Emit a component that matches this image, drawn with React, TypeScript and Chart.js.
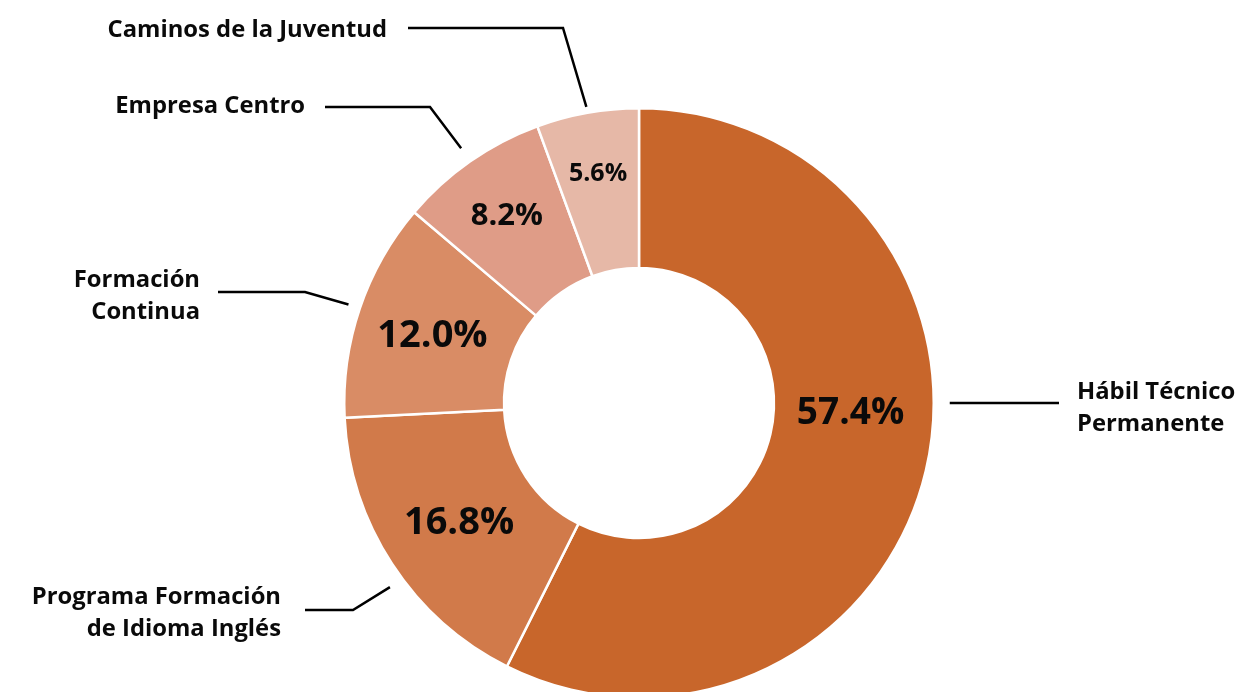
import React, { useEffect, useRef } from "react";
import { Chart, registerables } from "chart.js";

Chart.register(...registerables);

// ---- data ----
const categories = [
  "Hábil Técnico Permanente",
  "Programa Formación de Idioma Inglés",
  "Formación Continua",
  "Empresa Centro",
  "Caminos de la Juventud",
];
const labelLines = [
  ["Hábil Técnico", "Permanente"],
  ["Programa Formación", "de Idioma Inglés"],
  ["Formación", "Continua"],
  ["Empresa Centro"],
  ["Caminos de la Juventud"],
];
const shares = [57.4, 16.8, 12.0, 8.2, 5.6];

// ---- styles / layout ----
const colors = ["#C8662B", "#D17A4A", "#D98C65", "#DF9C87", "#E6B8A7"];
const FONT = '"Open Sans", "DejaVu Sans", sans-serif';
const valueFontSizes = [37, 38, 38, 31, 25];
const valueRadiusFrac = [0.48, 0.5, 0.52, 0.6, 0.62];
const valueAngleOverride: (number | null)[] = [0.035, null, null, null, null];
const leaderGap = [16, 15, 12, 16, 6];
const leaderAngleOverride: (number | null)[] = [0, 2.505, null, null, null];
const leaderLineY: (number | null)[] = [null, 610, 292, 107, 28];
const leaderElbowX: (number | null)[] = [null, 353, 305, 430, 563];
const leaderEndX = [1059, 305, 218, 325, 408];
const nameX = [1077, 281, 200, 305, 387];
const nameAlign: CanvasTextAlign[] = ["left", "right", "right", "right", "right"];
const nameBaseline = [399, 604, 287, 113, 37];
const nameFontSize = 23.8;
const nameLineHeight = 32;

const labelPlugin = {
  id: "sliceLabels",
  afterDatasetsDraw(chart: any) {
    const ctx: CanvasRenderingContext2D = chart.ctx;
    const meta = chart.getDatasetMeta(0);
    ctx.save();
    meta.data.forEach((arc: any, i: number) => {
      const p = arc.getProps(
        ["x", "y", "startAngle", "endAngle", "innerRadius", "outerRadius"],
        true
      );
      const mid = (p.startAngle + p.endAngle) / 2;
      // value label
      const vAng = valueAngleOverride[i] ?? mid;
      const vr = p.innerRadius + valueRadiusFrac[i] * (p.outerRadius - p.innerRadius);
      const fs = valueFontSizes[i];
      ctx.font = `700 ${fs}px ${FONT}`;
      ctx.fillStyle = "#0a0a0a";
      ctx.textAlign = "center";
      ctx.textBaseline = "alphabetic";
      ctx.fillText(
        shares[i].toFixed(1) + "%",
        p.x + vr * Math.cos(vAng),
        p.y + vr * Math.sin(vAng) + fs * 0.357
      );
      // leader line
      const lAng = leaderAngleOverride[i] ?? mid;
      const ar = p.outerRadius + leaderGap[i];
      const ax = p.x + ar * Math.cos(lAng);
      const ay = p.y + ar * Math.sin(lAng);
      const ly = leaderLineY[i] ?? ay;
      ctx.beginPath();
      ctx.moveTo(ax, ay);
      const ex = leaderElbowX[i];
      if (ex != null) ctx.lineTo(ex, ly);
      ctx.lineTo(leaderEndX[i], ly);
      ctx.strokeStyle = "#000000";
      ctx.lineWidth = 2.5;
      ctx.stroke();
      // category name
      ctx.font = `700 ${nameFontSize}px ${FONT}`;
      ctx.fillStyle = "#0a0a0a";
      ctx.textAlign = nameAlign[i];
      ctx.textBaseline = "alphabetic";
      labelLines[i].forEach((t, k) => {
        ctx.fillText(t, nameX[i], nameBaseline[i] + k * nameLineHeight);
      });
    });
    ctx.restore();
  },
};

export default function App() {
  const ref = useRef<HTMLCanvasElement | null>(null);
  useEffect(() => {
    if (!ref.current) return;
    const chart = new Chart(ref.current, {
      type: "doughnut",
      data: {
        labels: categories,
        datasets: [
          {
            data: shares,
            backgroundColor: colors,
            borderColor: "#ffffff",
            borderWidth: 2.5,
            hoverBorderWidth: 2.5,
            hoverOffset: 0,
          },
        ],
      },
      options: {
        responsive: false,
        animation: false,
        cutout: "45.8%",
        layout: { padding: { top: 107, bottom: 11, left: 343, right: 303 } },
        plugins: {
          legend: { display: false },
          tooltip: { enabled: false },
        },
        events: [],
      },
      plugins: [labelPlugin],
    });
    return () => chart.destroy();
  }, []);
  return (
    <div
      style={{
        position: "absolute",
        left: 0,
        top: 0,
        width: 1238,
        height: 692,
        overflow: "hidden",
        background: "#ffffff",
      }}
    >
      <canvas ref={ref} width={1238} height={710} style={{ display: "block" }} />
    </div>
  );
}
